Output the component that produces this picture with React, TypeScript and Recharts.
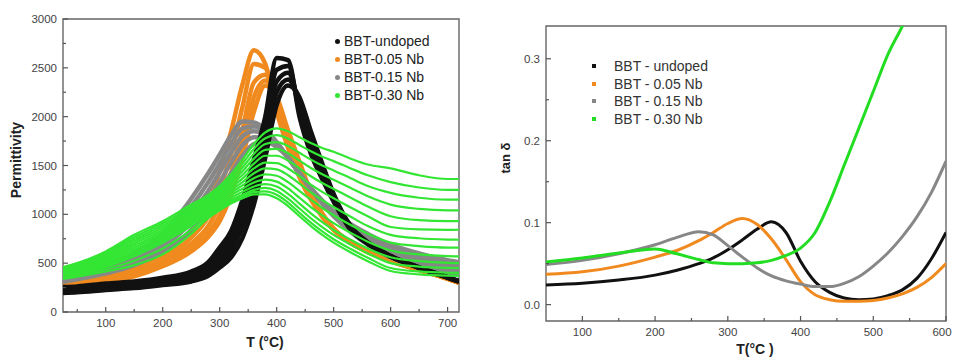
import React from "react";
import { LineChart, Line, XAxis, YAxis, ReferenceArea } from "recharts";

// ---- left panel: permittivity vs temperature (several frequencies per sample)
const tLeft = [25, 50, 100, 150, 200, 250, 280, 300, 320, 340, 360, 380, 400, 420, 440, 460, 480, 500, 530, 560, 600, 650, 700, 720];

const undopedA = [255, 262, 292, 312, 350, 415, 510, 660, 830, 1150, 1560, 2000, 2600, 2580, 2000, 1620, 1360, 1130, 840, 695, 565, 450, 350, 310];
const undopedB = [240, 247, 275, 296, 332, 390, 475, 600, 760, 1060, 1450, 1900, 2480, 2520, 2060, 1680, 1400, 1150, 850, 700, 568, 452, 352, 312];
const undopedC = [225, 232, 258, 280, 313, 365, 440, 545, 690, 965, 1340, 1800, 2360, 2450, 2110, 1740, 1440, 1170, 860, 705, 570, 454, 354, 313];
const undopedD = [210, 217, 241, 262, 294, 338, 405, 500, 625, 870, 1230, 1700, 2250, 2380, 2160, 1800, 1480, 1190, 870, 710, 572, 456, 356, 314];
const undopedE = [195, 202, 225, 245, 276, 312, 370, 455, 560, 760, 1100, 1580, 2120, 2320, 2200, 1850, 1520, 1210, 880, 715, 575, 458, 358, 315];

const nb005A = [335, 355, 425, 505, 610, 830, 1100, 1450, 1850, 2330, 2680, 2540, 2050, 1680, 1380, 1150, 975, 840, 705, 612, 520, 430, 340, 300];
const nb005B = [318, 336, 395, 468, 565, 760, 980, 1260, 1620, 2100, 2540, 2500, 2090, 1720, 1420, 1170, 985, 845, 707, 614, 521, 431, 341, 300];
const nb005C = [302, 318, 365, 430, 520, 700, 880, 1100, 1420, 1870, 2350, 2430, 2130, 1770, 1460, 1190, 995, 850, 708, 615, 522, 432, 341, 300];
const nb005D = [288, 302, 335, 398, 490, 655, 810, 990, 1280, 1700, 2200, 2370, 2170, 1820, 1500, 1210, 1003, 853, 710, 616, 523, 433, 342, 301];
const nb005E = [275, 288, 305, 365, 468, 620, 770, 930, 1200, 1580, 2050, 2320, 2200, 1860, 1540, 1230, 1010, 855, 712, 618, 524, 434, 342, 301];

const nb015A = [370, 400, 480, 600, 800, 1160, 1420, 1610, 1810, 1950, 1940, 1870, 1740, 1580, 1420, 1270, 1140, 1030, 900, 800, 690, 600, 530, 510];
const nb015B = [355, 383, 458, 570, 755, 1080, 1330, 1520, 1720, 1880, 1900, 1850, 1735, 1580, 1420, 1267, 1135, 1020, 880, 775, 660, 570, 500, 480];
const nb015C = [340, 366, 436, 540, 710, 1000, 1240, 1430, 1630, 1800, 1850, 1820, 1725, 1580, 1420, 1264, 1128, 1008, 860, 745, 625, 535, 465, 445];
const nb015D = [325, 350, 415, 510, 665, 920, 1150, 1330, 1530, 1710, 1790, 1780, 1710, 1580, 1420, 1262, 1120, 995, 840, 718, 590, 500, 430, 410];
const nb015E = [310, 335, 395, 480, 620, 840, 1060, 1230, 1420, 1600, 1720, 1740, 1690, 1580, 1420, 1260, 1110, 980, 820, 690, 560, 460, 395, 375];

const nb030A = [460, 500, 620, 790, 930, 1100, 1200, 1290, 1410, 1560, 1720, 1840, 1880, 1850, 1790, 1730, 1680, 1640, 1570, 1510, 1470, 1400, 1362, 1362];
const nb030B = [450, 488, 604, 768, 908, 1078, 1180, 1268, 1380, 1520, 1670, 1780, 1810, 1775, 1710, 1645, 1590, 1545, 1470, 1400, 1330, 1275, 1250, 1250];
const nb030C = [440, 477, 588, 746, 886, 1056, 1160, 1246, 1352, 1480, 1620, 1720, 1740, 1700, 1630, 1560, 1500, 1450, 1370, 1290, 1220, 1170, 1150, 1150];
const nb030D = [430, 466, 572, 724, 864, 1034, 1140, 1224, 1326, 1440, 1570, 1660, 1670, 1625, 1550, 1475, 1410, 1355, 1270, 1185, 1100, 1055, 1040, 1040];
const nb030E = [420, 455, 556, 702, 842, 1012, 1120, 1202, 1300, 1402, 1520, 1600, 1600, 1550, 1470, 1390, 1320, 1260, 1170, 1080, 980, 940, 930, 930];
const nb030F = [410, 444, 540, 680, 820, 990, 1100, 1180, 1274, 1366, 1470, 1530, 1525, 1470, 1390, 1305, 1230, 1165, 1070, 980, 870, 845, 840, 842];
const nb030G = [400, 433, 524, 658, 798, 968, 1080, 1158, 1248, 1330, 1420, 1470, 1460, 1400, 1315, 1225, 1145, 1075, 975, 880, 790, 755, 742, 740];
const nb030H = [390, 422, 508, 636, 776, 946, 1060, 1136, 1222, 1296, 1370, 1410, 1395, 1330, 1240, 1150, 1065, 990, 890, 800, 710, 675, 660, 660];
const nb030I = [380, 411, 492, 614, 754, 924, 1040, 1114, 1196, 1262, 1325, 1355, 1335, 1265, 1170, 1075, 990, 910, 810, 720, 630, 590, 572, 570];
const nb030J = [370, 400, 476, 592, 732, 902, 1020, 1092, 1170, 1230, 1285, 1310, 1285, 1210, 1110, 1010, 920, 840, 740, 650, 560, 520, 502, 500];
const nb030K = [360, 389, 460, 570, 710, 880, 1000, 1070, 1146, 1200, 1250, 1270, 1240, 1160, 1060, 960, 870, 790, 690, 600, 500, 465, 452, 450];
const nb030L = [350, 376, 438, 525, 650, 840, 980, 1055, 1126, 1180, 1228, 1235, 1200, 1120, 1015, 915, 825, 745, 645, 555, 450, 415, 402, 400];
const nb030M = [340, 362, 415, 480, 590, 800, 960, 1040, 1110, 1165, 1205, 1205, 1165, 1085, 980, 880, 790, 710, 610, 520, 420, 385, 372, 370];

// ---- right panel: tan delta vs temperature
const tRight = [50, 100, 150, 200, 230, 260, 280, 300, 320, 340, 360, 380, 400, 420, 440, 460, 480, 500, 520, 540, 560, 580, 600];
const tanUndoped = [0.024, 0.026, 0.03, 0.036, 0.042, 0.05, 0.057, 0.067, 0.079, 0.092, 0.101, 0.088, 0.053, 0.028, 0.015, 0.008, 0.006, 0.007, 0.011, 0.018, 0.032, 0.056, 0.088];
const tan005 = [0.037, 0.04, 0.047, 0.058, 0.066, 0.078, 0.088, 0.099, 0.105, 0.098, 0.08, 0.055, 0.028, 0.012, 0.006, 0.004, 0.004, 0.005, 0.008, 0.013, 0.021, 0.033, 0.05];
const tan015 = [0.049, 0.054, 0.062, 0.073, 0.082, 0.089, 0.085, 0.072, 0.058, 0.045, 0.035, 0.029, 0.025, 0.022, 0.022, 0.026, 0.034, 0.047, 0.063, 0.083, 0.107, 0.137, 0.175];
const tan030 = [0.052, 0.057, 0.063, 0.068, 0.062, 0.055, 0.051, 0.05, 0.05, 0.051, 0.054, 0.06, 0.069, 0.088, 0.125, 0.17, 0.215, 0.26, 0.305, 0.34, 0.38, null, null];

const leftTicksX = [50, 100, 150, 200, 250, 300, 350, 400, 450, 500, 550, 600, 650, 700];
const leftTicksY = [0, 250, 500, 750, 1000, 1250, 1500, 1750, 2000, 2250, 2500, 2750, 3000];
const rightTicksX = [100, 150, 200, 250, 300, 350, 400, 450, 500, 550, 600];
const rightTicksY = [0, 0.05, 0.1, 0.15, 0.2, 0.25, 0.3];

const BLACK = "#111111";
const ORANGE = "#f08a1f";
const GRAY = "#878787";
const GREEN = "#33e633";

const leftGroups = [
  { key: "o", color: ORANGE, width: 4.5, curves: [nb005A, nb005B, nb005C, nb005D, nb005E] },
  { key: "g", color: GRAY, width: 4.5, curves: [nb015A, nb015B, nb015C, nb015D, nb015E] },
  { key: "u", color: BLACK, width: 4.5, curves: [undopedA, undopedB, undopedC, undopedD, undopedE] },
  {
    key: "n",
    color: GREEN,
    width: 2.2,
    curves: [nb030A, nb030B, nb030C, nb030D, nb030E, nb030F, nb030G, nb030H, nb030I, nb030J, nb030K, nb030L, nb030M],
  },
];

const leftRows = tLeft.map((t, i) => {
  const row: Record<string, number> = { t };
  leftGroups.forEach((g) => g.curves.forEach((c, j) => (row[`${g.key}${j}`] = c[i])));
  return row;
});

const rightSeries = [
  { key: "undoped", color: BLACK, values: tanUndoped },
  { key: "nb005", color: ORANGE, values: tan005 },
  { key: "nb015", color: GRAY, values: tan015 },
  { key: "nb030", color: "#22dd22", values: tan030 },
];

const rightRows = tRight.map((t, i) => {
  const row: Record<string, number | null> = { t };
  rightSeries.forEach((s) => (row[s.key] = s.values[i]));
  return row;
});

const FONT = "'Liberation Sans', Arial, sans-serif";
const AXIS = "#555";

const isMajor = (v: number, step: number) => Math.abs(v / step - Math.round(v / step)) < 1e-6;

function XTick(props: any, step: number, lastShift = 0, last = Infinity) {
  const { x, y, payload } = props;
  const major = isMajor(payload.value, step);
  const dx = payload.value === last ? lastShift : 0;
  return (
    <g>
      <line x1={x} x2={x} y1={y} y2={y - (major ? 5 : 3)} stroke={AXIS} strokeWidth={1.2} />
      {major && (
        <text x={x + dx} y={y + 15} textAnchor="middle" fontSize={11.5} fill="#444" fontFamily={FONT}>
          {payload.value}
        </text>
      )}
    </g>
  );
}

function YTick(props: any, step: number, fmt: (v: number) => string) {
  const { x, y, payload } = props;
  const major = isMajor(payload.value, step);
  return (
    <g>
      <line x1={x} x2={x + (major ? 5 : 3)} y1={y} y2={y} stroke={AXIS} strokeWidth={1.2} />
      {major && (
        <text x={x - 6} y={y + 4} textAnchor="end" fontSize={11.5} fill="#444" fontFamily={FONT}>
          {fmt(payload.value)}
        </text>
      )}
    </g>
  );
}

const abs = (s: React.CSSProperties): React.CSSProperties => ({ position: "absolute", fontFamily: FONT, whiteSpace: "nowrap", ...s });

const leftLegend = [
  { label: "BBT-undoped", color: BLACK },
  { label: "BBT-0.05 Nb", color: ORANGE },
  { label: "BBT-0.15 Nb", color: GRAY },
  { label: "BBT-0.30 Nb", color: GREEN },
];
const rightLegend = [
  { label: "BBT - undoped", color: BLACK },
  { label: "BBT - 0.05 Nb", color: ORANGE },
  { label: "BBT - 0.15 Nb", color: GRAY },
  { label: "BBT - 0.30 Nb", color: "#22dd22" },
];

export default function App() {
  return (
    <div style={{ position: "absolute", left: 0, top: 0, width: 954, height: 357, background: "#fff", overflow: "hidden" }}>
      <div style={{ position: "absolute", left: 0, top: 0 }}>
        <LineChart width={480} height={357} data={leftRows} margin={{ top: 19, right: 21, bottom: 0, left: 3 }}>
          <XAxis
            dataKey="t"
            type="number"
            domain={[25, 720]}
            ticks={leftTicksX}
            allowDataOverflow
            height={45}
            axisLine={false}
            tickLine={false}
            tickSize={0}
            tickMargin={0}
            interval={0}
            tick={(p: any) => XTick(p, 100)}
          />
          <YAxis
            type="number"
            domain={[0, 3000]}
            ticks={leftTicksY}
            allowDataOverflow
            width={60}
            axisLine={false}
            tickLine={false}
            tickSize={0}
            tickMargin={0}
            interval={0}
            tick={(p: any) => YTick(p, 500, (v) => String(v))}
          />
          {leftGroups.map((g) =>
            g.curves.map((_, j) => (
              <Line
                key={`${g.key}${j}`}
                dataKey={`${g.key}${j}`}
                type="monotone"
                stroke={g.color}
                strokeWidth={g.width}
                dot={false}
                isAnimationActive={false}
              />
            ))
          )}
          <ReferenceArea x1={25} x2={720} y1={0} y2={3000} fill="none" stroke="#666" strokeWidth={1.4} />
        </LineChart>
      </div>

      <div style={{ position: "absolute", left: 480, top: 0 }}>
        <LineChart width={474} height={357} data={rightRows} margin={{ top: 26, right: 8, bottom: 0, left: 6 }}>
          <XAxis
            dataKey="t"
            type="number"
            domain={[50, 600]}
            ticks={rightTicksX}
            allowDataOverflow
            height={36}
            axisLine={false}
            tickLine={false}
            tickSize={0}
            tickMargin={0}
            interval={0}
            tick={(p: any) => XTick(p, 100, -4, 600)}
          />
          <YAxis
            type="number"
            domain={[-0.02, 0.34]}
            ticks={rightTicksY}
            allowDataOverflow
            width={60}
            axisLine={false}
            tickLine={false}
            tickSize={0}
            tickMargin={0}
            interval={0}
            tick={(p: any) => YTick(p, 0.1, (v) => v.toFixed(1))}
          />
          {rightSeries.map((s) => (
            <Line
              key={s.key}
              dataKey={s.key}
              type="monotone"
              stroke={s.color}
              strokeWidth={3}
              dot={false}
              connectNulls={false}
              isAnimationActive={false}
            />
          ))}
          <ReferenceArea x1={50} x2={600} y1={-0.02} y2={0.34} fill="none" stroke="#666" strokeWidth={1.4} />
        </LineChart>
      </div>

      {/* axis titles */}
      <div style={abs({ left: 16, top: 160, fontSize: 14, fontWeight: "bold", color: "#222", transform: "translate(-50%, -50%) rotate(-90deg)" })}>
        Permittivity
      </div>
      <div style={abs({ left: 265, top: 342, fontSize: 14, fontWeight: "bold", color: "#222", transform: "translate(-50%, -50%)" })}>
        T (°C)
      </div>
      <div style={abs({ left: 505, top: 158, fontSize: 13, fontWeight: "bold", color: "#222", transform: "translate(-50%, -50%) rotate(-90deg)" })}>
        tan δ
      </div>
      <div style={abs({ left: 755, top: 349, fontSize: 14, fontWeight: "bold", color: "#222", transform: "translate(-50%, -50%)" })}>
        T(°C )
      </div>

      {/* legends */}
      {leftLegend.map((l, i) => (
        <React.Fragment key={l.label}>
          <div style={abs({ left: 335, top: 39 + i * 18, width: 5, height: 5, borderRadius: "50%", background: l.color })} />
          <div style={abs({ left: 344, top: 41 + i * 18, fontSize: 14, color: "#222", lineHeight: "16px", transform: "translateY(-50%)" })}>
            {l.label}
          </div>
        </React.Fragment>
      ))}
      {rightLegend.map((l, i) => (
        <React.Fragment key={l.label}>
          <div style={abs({ left: 592, top: 64 + i * 17.7, width: 4, height: 4, background: l.color })} />
          <div style={abs({ left: 614, top: 66 + i * 17.7, fontSize: 14, color: "#333", lineHeight: "16px", transform: "translateY(-50%)" })}>
            {l.label}
          </div>
        </React.Fragment>
      ))}
    </div>
  );
}
